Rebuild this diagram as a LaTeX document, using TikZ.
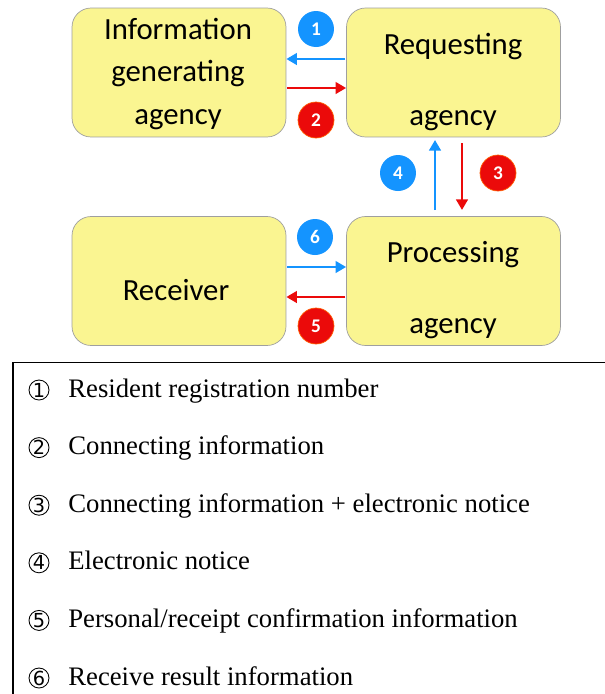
\documentclass[tikz,border=0pt]{standalone}
\usepackage{fontspec}
\setmainfont{Liberation Serif}
\newfontfamily\boxfont{Carlito}
\newfontfamily\circfont{DejaVu Sans}
\usepackage{tikz}
\usetikzlibrary{arrows.meta,positioning,calc}
\definecolor{boxyellow}{RGB}{250,245,145}
\definecolor{flowblue}{RGB}{20,148,255}
\definecolor{flowred}{RGB}{235,10,10}

\tikzset{
  agency/.style={draw=gray!75,fill=boxyellow,rounded corners=0.38cm,minimum width=4.28cm,minimum height=2.58cm},
  boxtext/.style={font=\boxfont\fontsize{17.5}{24}\selectfont,align=center},
  badge/.style={circle,inner sep=0pt,minimum size=0.72cm,text=white,font=\boxfont\bfseries\fontsize{11}{13}\selectfont},
  bluebadge/.style={badge,fill=flowblue},
  redbadge/.style={badge,fill=flowred,draw=orange!70!red,line width=0.4pt},
  bluearrow/.style={draw=flowblue,line width=1.5pt,-{Triangle[length=6pt,width=6.5pt]}},
  redarrow/.style={draw=flowred,line width=1.5pt,-{Triangle[length=6pt,width=6.5pt]}},
  legnum/.style={circle,draw,line width=0.5pt,inner sep=0pt,minimum size=0.4cm,font=\circfont\fontsize{11}{12}\selectfont},
  legtext/.style={font=\fontsize{15.2}{18}\selectfont,inner sep=0pt}
}

\begin{document}
\begin{tikzpicture}[x=0.02cm,y=-0.02cm]
\useasboundingbox (0,0) rectangle (605,694);
% the four agencies
\node[agency] (iga) at (179,72.5) {};
\node[agency] (req) at (453.5,72.5) {};
\node[agency] (rec) at (179,281) {};
\node[agency] (proc) at (453.5,281) {};
\node[boxtext] (igatext) at (178,74) {Information\\generating\\agency};
\node[boxtext] (reqtext) at (453,82) {Requesting\\[16pt]agency};
\node[boxtext] (rectext) at (176,290) {Receiver};
\node[boxtext] (proctext) at (453,290) {Processing\\[16pt]agency};
% flows between them
\draw[bluearrow,shorten <=0.5pt] ([yshift=0.27cm]req.west) -- ([yshift=0.27cm]iga.east);
\draw[redarrow,shorten <=0.5pt] ([yshift=-0.31cm]iga.east) -- ([yshift=-0.31cm]req.west);
\draw[redarrow,shorten <=3.5pt,shorten >=3.5pt] ([xshift=0.17cm]req.south) -- ([xshift=0.17cm]proc.north);
\draw[bluearrow,shorten <=3.5pt,shorten >=1.5pt] ([xshift=-0.37cm]proc.north) -- ([xshift=-0.37cm]req.south);
\draw[bluearrow,shorten <=0.5pt] ([yshift=0.28cm]rec.east) -- ([yshift=0.28cm]proc.west);
\draw[redarrow,shorten <=0.5pt] ([yshift=-0.32cm]proc.west) -- ([yshift=-0.32cm]rec.east);
% step numbers
\node[bluebadge] (b1) at (316,29) {1};
\node[redbadge] (b2) at (316,120) {2};
\node[redbadge] (b3) at (498,173) {3};
\node[bluebadge] (b4) at (398,173) {4};
\node[redbadge] (b5) at (316,326) {5};
\node[bluebadge] (b6) at (315,237) {6};
% legend
\draw[line width=1.1pt] (13,694) -- (13,362.5) -- (605,362.5);
\foreach \txt [count=\i] in {Resident registration number,Connecting information,Connecting information + electronic notice,Electronic notice,{Personal/receipt confirmation information},Receive result information}
{
  \node[legnum] (n\i) at (39,{390+57.6*(\i-1)}) {\i};
  \node[legtext,anchor=base west] (t\i) at (68,{397+57.6*(\i-1)}) {\txt};
}
\end{tikzpicture}
\end{document}
